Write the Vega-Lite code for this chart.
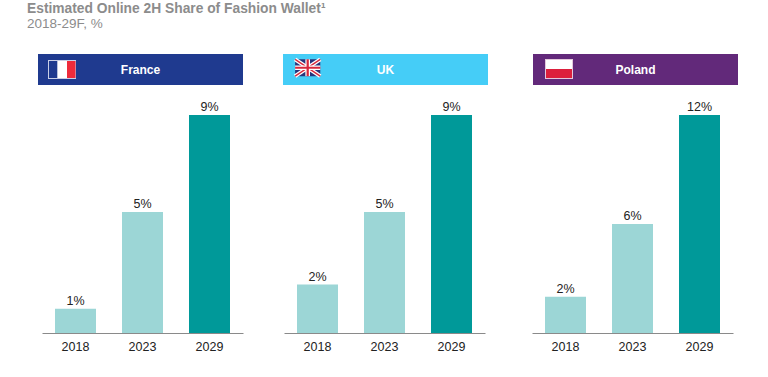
{
"$schema":"https://vega.github.io/schema/vega-lite/v6.json",
"padding":{"left":27,"top":2,"right":0,"bottom":0},
"background":"white",
"title":{"text":"Estimated Online 2H Share of Fashion Wallet¹","subtitle":"2018-29F, %","anchor":"start","frame":"group","dx":-11,"offset":21,"font":"Liberation Sans","fontSize":13.8,"fontWeight":"bold","color":"#8c8c8c","subtitleFont":"Liberation Sans","subtitleFontSize":13.5,"subtitleColor":"#8c8c8c","subtitlePadding":1},
"config":{"view":{"stroke":null},"axis":{"labelFont":"Liberation Sans"},"text":{"font":"Liberation Sans"}},
"datasets":{
"france":[{"year":"2018","share":1,"label":"1%"},{"year":"2023","share":5,"label":"5%"},{"year":"2029","share":9,"label":"9%"}],
"uk":[{"year":"2018","share":2,"label":"2%"},{"year":"2023","share":5,"label":"5%"},{"year":"2029","share":9,"label":"9%"}],
"poland":[{"year":"2018","share":2,"label":"2%"},{"year":"2023","share":6,"label":"6%"},{"year":"2029","share":12,"label":"12%"}],
"flagFR":[{"part":"frBorder","x":10,"x2":38,"y":6,"y2":25},{"part":"frBlue","x":11,"x2":19.5,"y":7,"y2":24},{"part":"white","x":19.5,"x2":29,"y":7,"y2":24},{"part":"frRed","x":29,"x2":37.5,"y":7,"y2":24}],
"flagUKbg":[{"part":"ukBlue","x":13,"x2":40,"y":6,"y2":25}],
"flagUKw":[{"part":"white","x":13,"x2":40,"y":13,"y2":18},{"part":"white","x":24,"x2":29,"y":6,"y2":25},{"part":"ukRed","x":13,"x2":40,"y":14.3,"y2":16.7},{"part":"ukRed","x":25.3,"x2":27.7,"y":6,"y2":25}],
"flagUKd":[{"k":"a","x":13,"y":6},{"k":"a","x":40,"y":25},{"k":"b","x":13,"y":25},{"k":"b","x":40,"y":6}],
"flagPL":[{"part":"plBorder","x":12,"x2":40,"y":5,"y2":25},{"part":"white","x":13,"x2":39,"y":6,"y2":15},{"part":"plRed","x":13,"x2":39,"y":15,"y2":24}]
},
"resolve":{"scale":{"color":"shared"}},
"spacing":45,
"hconcat":[
{"spacing":40,"hconcat":[
{"spacing":10,"vconcat":[
{"width":205,"height":31,"view":{"fill":"#1f3a8f"},"layer":[
{"data":{"name":"flagFR"},"mark":{"type":"rect"},"encoding":{"x":{"field":"x","type":"quantitative","axis":null,"scale":{"domain":[0,205]}},"x2":{"field":"x2"},"y":{"field":"y","type":"quantitative","axis":null,"scale":{"domain":[31,0]}},"y2":{"field":"y2"},"color":{"field":"part","type":"nominal","legend":null,"scale":{"domain":["frBorder","frBlue","white","frRed","ukBlue","ukRed","plBorder","plRed"],"range":["#c9cfe6","#1f3a8f","#ffffff","#ee2b3b","#27337a","#d8283c","#e3c8dc","#dc1f3c"]}}}},
{"data":{"values":[{"n":"France"}]},"mark":{"type":"text","fontWeight":"bold","fontSize":12,"color":"white"},"encoding":{"text":{"field":"n"}}}
]},
{"width":205,"height":238,"data":{"name":"france"},"encoding":{"x":{"field":"year","type":"ordinal","title":null,"scale":{"range":[4,205],"paddingInner":0.388,"paddingOuter":0.194},"axis":{"labelAngle":0,"labelFontSize":12.5,"labelColor":"#222","ticks":false,"domainColor":"#8a8a8a","domainWidth":1,"labelPadding":7}},"y":{"field":"share","type":"quantitative","axis":null,"scale":{"domain":[0,9.826],"nice":false}}},"layer":[
{"mark":{"type":"bar","color":"#9cd6d6"},"encoding":{"color":{"condition":{"test":"datum.year==='2029'","value":"#009999"},"value":"#9cd6d6"}}},
{"mark":{"type":"text","baseline":"bottom","dy":-1,"fontSize":12.5,"color":"#222"},"encoding":{"text":{"field":"label"}}}
]}
]},
{"spacing":10,"vconcat":[
{"width":205,"height":31,"view":{"fill":"#45cdf7"},"layer":[
{"data":{"name":"flagUKbg"},"mark":{"type":"rect"},"encoding":{"x":{"field":"x","type":"quantitative","axis":null,"scale":{"domain":[0,205]}},"x2":{"field":"x2"},"y":{"field":"y","type":"quantitative","axis":null,"scale":{"domain":[31,0]}},"y2":{"field":"y2"},"color":{"field":"part","type":"nominal","legend":null}}},
{"data":{"name":"flagUKd"},"mark":{"type":"line","color":"white","strokeWidth":4},"encoding":{"x":{"field":"x","type":"quantitative"},"y":{"field":"y","type":"quantitative"},"detail":{"field":"k"}}},
{"data":{"name":"flagUKd"},"mark":{"type":"line","color":"#d8283c","strokeWidth":1.4},"encoding":{"x":{"field":"x","type":"quantitative"},"y":{"field":"y","type":"quantitative"},"detail":{"field":"k"}}},
{"data":{"name":"flagUKw"},"mark":{"type":"rect"},"encoding":{"x":{"field":"x","type":"quantitative"},"x2":{"field":"x2"},"y":{"field":"y","type":"quantitative"},"y2":{"field":"y2"},"color":{"field":"part","type":"nominal","legend":null}}},
{"data":{"values":[{"n":"UK"}]},"mark":{"type":"text","fontWeight":"bold","fontSize":12,"color":"white"},"encoding":{"text":{"field":"n"}}}
]},
{"width":205,"height":238,"data":{"name":"uk"},"encoding":{"x":{"field":"year","type":"ordinal","title":null,"scale":{"range":[1,202],"paddingInner":0.388,"paddingOuter":0.194},"axis":{"labelAngle":0,"labelFontSize":12.5,"labelColor":"#222","ticks":false,"domainColor":"#8a8a8a","domainWidth":1,"labelPadding":7}},"y":{"field":"share","type":"quantitative","axis":null,"scale":{"domain":[0,9.826],"nice":false}}},"layer":[
{"mark":{"type":"bar"},"encoding":{"color":{"condition":{"test":"datum.year==='2029'","value":"#009999"},"value":"#9cd6d6"}}},
{"mark":{"type":"text","baseline":"bottom","dy":-1,"fontSize":12.5,"color":"#222"},"encoding":{"text":{"field":"label"}}}
]}
]}
]},
{"spacing":10,"vconcat":[
{"width":205,"height":31,"view":{"fill":"#62297a"},"layer":[
{"data":{"name":"flagPL"},"mark":{"type":"rect"},"encoding":{"x":{"field":"x","type":"quantitative","axis":null,"scale":{"domain":[0,205]}},"x2":{"field":"x2"},"y":{"field":"y","type":"quantitative","axis":null,"scale":{"domain":[31,0]}},"y2":{"field":"y2"},"color":{"field":"part","type":"nominal","legend":null}}},
{"data":{"values":[{"n":"Poland"}]},"mark":{"type":"text","fontWeight":"bold","fontSize":12,"color":"white"},"encoding":{"text":{"field":"n"}}}
]},
{"width":205,"height":238,"data":{"name":"poland"},"encoding":{"x":{"field":"year","type":"ordinal","title":null,"scale":{"range":[-1,200],"paddingInner":0.388,"paddingOuter":0.194},"axis":{"labelAngle":0,"labelFontSize":12.5,"labelColor":"#222","ticks":false,"domainColor":"#8a8a8a","domainWidth":1,"labelPadding":7}},"y":{"field":"share","type":"quantitative","axis":null,"scale":{"domain":[0,13.1],"nice":false}}},"layer":[
{"mark":{"type":"bar"},"encoding":{"color":{"condition":{"test":"datum.year==='2029'","value":"#009999"},"value":"#9cd6d6"}}},
{"mark":{"type":"text","baseline":"bottom","dy":-1,"fontSize":12.5,"color":"#222"},"encoding":{"text":{"field":"label"}}}
]}
]}
]
}
